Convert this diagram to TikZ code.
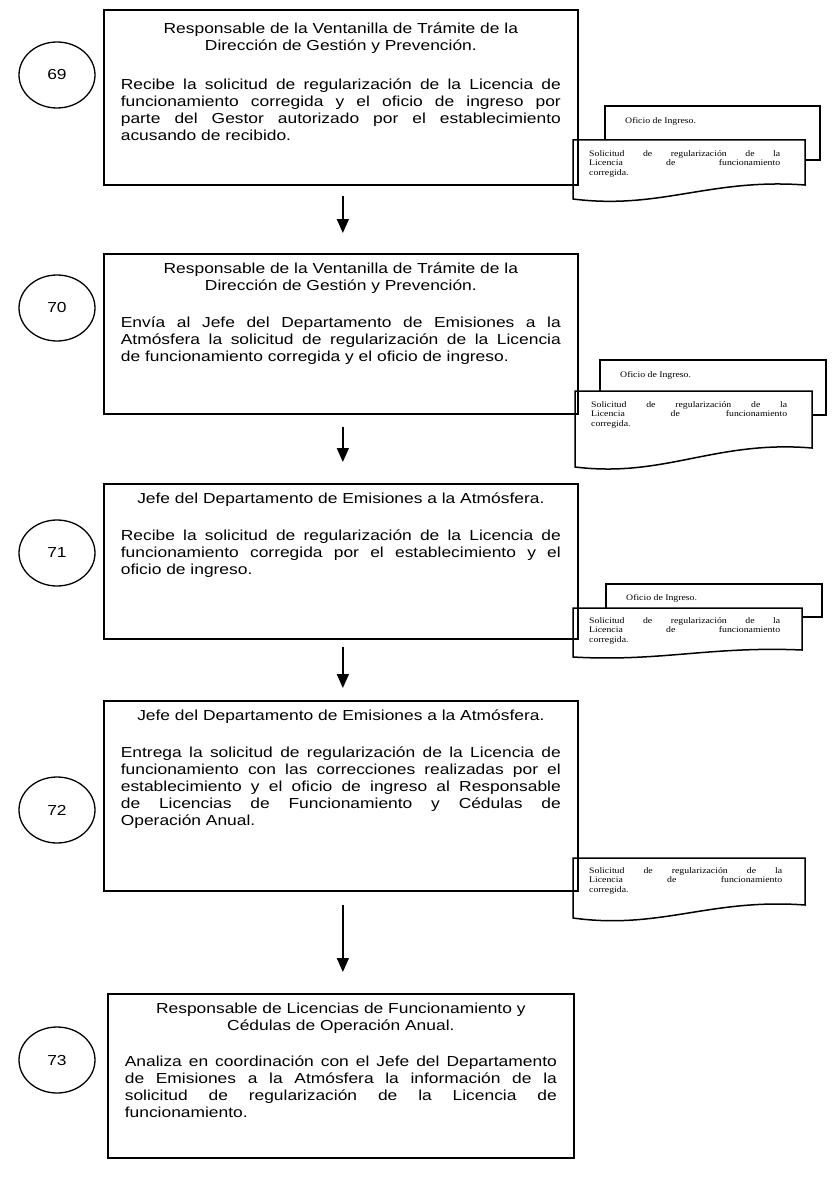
\documentclass[tikz,border=0pt]{standalone}
\usepackage{fontspec}
\setmainfont{Liberation Sans}[FakeStretch=1.2]
\newfontfamily\hojafont{Liberation Serif}[FakeStretch=1.15]
\usetikzlibrary{arrows.meta, shapes.geometric}
\tolerance=9999
\hbadness=10000
\hfuzz=3pt

\tikzset{
	caja/.style={draw, line width=1.7pt, inner xsep=17pt, inner ysep=0pt, anchor=north west, font=\fontsize{14.5}{17}\selectfont},
	circulo/.style={draw, ellipse, line width=1.3pt, minimum width=76pt, minimum height=66pt, font=\fontsize{14.5}{17}\selectfont},
	flecha/.style={line width=1.5pt, -{Triangle[length=14pt, width=12pt]}},
	hoja/.style={draw, line width=1.5pt, fill=white},
	txthoja/.style={inner sep=0pt, font=\hojafont\fontsize{8.5}{9.5}\selectfont},
}

\begin{document}
\begin{tikzpicture}[x=1pt, y=-1pt]
			\def\tw{440pt}
			\def\tit{\vspace*{8pt}\rule{0pt}{12pt}}
			
			\fill[white] (0,0) rectangle (833,1177);
			\useasboundingbox (0,0) rectangle (833,1177);
			
			% documentos
			\draw[hoja] (605,106) rectangle (820,160);
			\draw[hoja] (573,140) -- (805,140) -- (805,185) .. controls (710,178) and (660,210) .. (573,199) -- cycle;
			\node[txthoja, anchor=west] (d69a) at (625,121) {Oficio de Ingreso.};
			\node[txthoja, anchor=north west, text width=191pt, align=justify] (d69b) at (589,150) {Solicitud de regularización de la\linebreak Licencia de funcionamiento\linebreak corregida.};
			
			\draw[hoja] (600,360) rectangle (826,415);
			\draw[hoja] (575,391) -- (812,391) -- (812,448) .. controls (715,440) and (665,478) .. (575,467) -- cycle;
			\node[txthoja, anchor=west] (d70a) at (620,375) {Oficio de Ingreso.};
			\node[txthoja, anchor=north west, text width=196pt, align=justify] (d70b) at (591,401) {Solicitud de regularización de la\linebreak Licencia de funcionamiento\linebreak corregida.};
			
			\draw[hoja] (606,584) rectangle (822,617);
			\draw[hoja] (573,608) -- (802,608) -- (802,650) .. controls (710,646) and (660,662) .. (573,657) -- cycle;
			\node[txthoja, anchor=west] (d71a) at (626,598) {Oficio de Ingreso.};
			\node[txthoja, anchor=north west, text width=191pt, align=justify] (d71b) at (589,617) {Solicitud de regularización de la\linebreak Licencia de funcionamiento\linebreak corregida.};
			
			\draw[hoja] (573,858) -- (805,858) -- (805,905) .. controls (710,898) and (660,930) .. (573,918) -- cycle;
			\node[txthoja, anchor=north west, text width=193pt, align=justify] (d72b) at (589,867) {Solicitud de regularización de la\linebreak Licencia de funcionamiento\linebreak corregida.};
			
			% pasos
			\node[caja] (p69) at (103,9) {\parbox[c][175pt][t]{\tw}{{\centering\vspace*{4pt}\tit Responsable de la Ventanilla de Trámite de la\\ Dirección de Gestión y Prevención.\par}\vspace{22pt}Recibe la solicitud de regularización de la Licencia de\linebreak funcionamiento corregida y el oficio de ingreso por\linebreak parte del Gestor autorizado por el establecimiento\linebreak acusando de recibido.}};
			\node[caja] (p70) at (103,253) {\parbox[c][160pt][t]{\tw}{{\centering\tit Responsable de la Ventanilla de Trámite de la\\ Dirección de Gestión y Prevención.\par}\vspace{20pt}Envía al Jefe del Departamento de Emisiones a la\linebreak Atmósfera la solicitud de regularización de la Licencia\linebreak de funcionamiento corregida y el oficio de ingreso.}};
			\node[caja] (p71) at (103,483) {\parbox[c][155pt][t]{\tw}{{\centering\tit Jefe del Departamento de Emisiones a la Atmósfera.\par}\vspace{20pt}Recibe la solicitud de regularización de la Licencia de\linebreak funcionamiento corregida por el establecimiento y el\linebreak oficio de ingreso.}};
			\node[caja] (p72) at (103,700) {\parbox[c][190pt][t]{\tw}{{\centering\tit Jefe del Departamento de Emisiones a la Atmósfera.\par}\vspace{20pt}Entrega la solicitud de regularización de la Licencia de\linebreak funcionamiento con las correcciones realizadas por el\linebreak establecimiento y el oficio de ingreso al Responsable\linebreak de Licencias de Funcionamiento y Cédulas de\linebreak Operación Anual.}};
			\node[caja] (p73) at (107,993) {\parbox[c][164pt][t]{432pt}{{\centering\tit Responsable de Licencias de Funcionamiento y\\ Cédulas de Operación Anual.\par}\vspace{19pt}Analiza en coordinación con el Jefe del Departamento\linebreak de Emisiones a la Atmósfera la información de la\linebreak solicitud de regularización de la Licencia de\linebreak funcionamiento.}};
			
			\node[circulo] (n69) at (57,75) {69};
			\node[circulo] (n70) at (57,308) {70};
			\node[circulo] (n71) at (57,553) {71};
			\node[circulo] (n72) at (57,810) {72};
			\node[circulo] (n73) at (57,1060) {73};
			
			\foreach \a/\b/\s/\e in {p69/p70/10/20, p70/p71/12/21, p71/p72/7/12, p72/p73/13/21} {
				\draw[flecha] ([xshift=2pt, yshift=-\s pt]\a.south) -- ([xshift=2pt, yshift=\e pt]\b.north);
			}
			
		\end{tikzpicture}
\end{document}
